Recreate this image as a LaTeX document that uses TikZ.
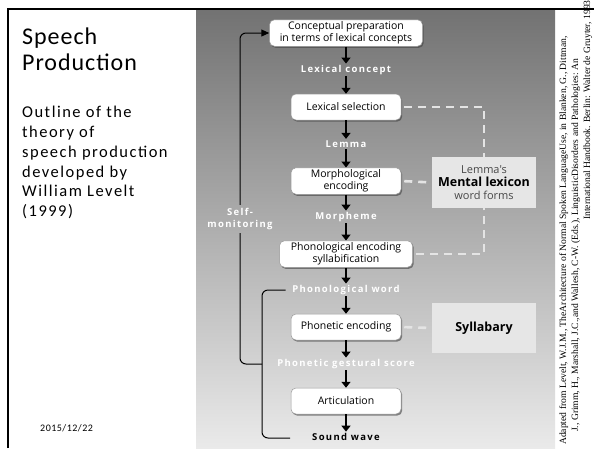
\documentclass[tikz,border=0pt]{standalone}
\usepackage{fontspec}
\setmainfont{Carlito}
\newfontfamily\titlefont[LetterSpace=4]{Carlito}
\newfontfamily\bodyfont[LetterSpace=9]{Carlito}
\newfontfamily\datefont[LetterSpace=5]{Carlito}
\newfontfamily\diagfont{Open Sans}
\newfontfamily\diagspaced[LetterSpace=14]{Open Sans}
\newfontfamily\citefont{Liberation Serif}
\usetikzlibrary{arrows.meta,shadows}

\definecolor{bgtop}{HTML}{727272}
\definecolor{bgmid}{HTML}{A8A8A8}
\definecolor{bgbot}{HTML}{EAEAEA}
\definecolor{storegray}{HTML}{E6E6E6}
\definecolor{dashgray}{HTML}{E4E4E4}
\definecolor{lexgray}{HTML}{484848}

\tikzset{
  stage/.style={draw=black!40, line width=0.5pt, fill=white, rounded corners=5pt,
    minimum width=110pt, minimum height=26pt, align=center, inner sep=2pt,
    font=\diagfont\fontsize{10.5}{12}\selectfont,
    drop shadow={shadow xshift=1.2pt, shadow yshift=-1.6pt, opacity=0.6, fill=black!75}},
  flowlabel/.style={text=white, inner sep=1.5pt,
    font=\diagspaced\bfseries\fontsize{9.5}{12.5}\selectfont},
  flowarrow/.style={line width=1.8pt, -{Triangle[length=6pt,width=9pt]}},
  monitor/.style={line width=1pt, rounded corners=6pt},
  store/.style={fill=storegray, minimum width=104pt, align=center, inner sep=2pt},
  lexlink/.style={draw=dashgray, line width=2.6pt, dash pattern=on 8pt off 6pt},
  citation/.style={rotate=90, anchor=base west, inner sep=0pt,
    font=\citefont\fontsize{9.6}{11}\selectfont}
}

\begin{document}
\begin{tikzpicture}[x=1pt,y=-1pt]
\useasboundingbox (0,0) rectangle (594,448);
\fill[white] (0,0) rectangle (594,448);

% grey backdrop of the diagram
\shade[top color=bgtop, middle color=bgmid, bottom color=bgbot] (196,9) rectangle (555,448);

% slide frame
\draw[line width=2pt] (8,448) -- (8,8.5) -- (594,8.5);

% left column text
\node[anchor=north west, align=left, inner sep=0pt, font=\titlefont\fontsize{24}{26}\selectfont]
  (title) at (22,28) {Speech\\Production};
\node[anchor=north west, align=left, inner sep=0pt, font=\bodyfont\fontsize{16.5}{19.8}\selectfont]
  (outline) at (22,106) {Outline of the\\theory of\\speech production\\developed by\\William Levelt\\(1999)};
\node[anchor=base west, inner sep=0pt, font=\datefont\fontsize{10}{11}\selectfont]
  (date) at (40,431) {2015/12/22};

% processing stages
\node[stage, minimum width=153pt] (concept) at (346,33) {Conceptual preparation\\in terms of lexical concepts};
\node[flowlabel] (lexconcept) at (346,70) {Lexical concept};
\node[stage] (lexsel) at (346,107) {Lexical selection};
\node[flowlabel] (lemma) at (346,144) {Lemma};
\node[stage] (morph) at (346,181) {Morphological\\encoding};
\node[flowlabel] (morpheme) at (346,217) {Morpheme};
\node[stage, minimum width=133pt] (phon) at (346,254) {Phonological encoding\\syllabification};
\node[flowlabel] (phonword) at (346,290) {Phonological word};
\node[stage] (phonetic) at (346,327) {Phonetic encoding};
\node[flowlabel] (gestural) at (346,364) {Phonetic gestural score};
\node[stage] (artic) at (346,401) {Articulation};
\node[flowlabel, text=black] (sound) at (346,437) {Sound wave};

\foreach \a/\b in {concept/lexconcept, lexconcept/lexsel, lexsel/lemma, lemma/morph,
                   morph/morpheme, morpheme/phon, phon/phonword, phonword/phonetic,
                   phonetic/gestural, gestural/artic, artic/sound}
  \draw[flowarrow] (\a) -- (\b);

% stores
\node[store, minimum height=51pt, text=lexgray, font=\diagfont\fontsize{11}{12.8}\selectfont]
  (lexicon) at (484,182.5) {Lemma's\\\textcolor{black}{\bfseries\fontsize{12.5}{12.8}\selectfont Mental lexicon}\\word forms};
\node[store, minimum height=50pt, font=\diagfont\bfseries\fontsize{12.5}{13}\selectfont]
  (syllabary) at (484,328) {Syllabary};

\draw[lexlink, shorten <=3pt] (lexsel.east) -| (lexicon.north);
\draw[lexlink, shorten <=3pt] (morph.east) -- (lexicon.west);
\draw[lexlink, shorten <=3pt] (phon.east) -| (lexicon.south);
\draw[lexlink, shorten <=3pt] (phonetic.east) -- (syllabary.west);

% self-monitoring loop
\node[flowlabel, align=center, inner sep=3pt] (selfmon) at (240,219) {Self-\\monitoring};
\coordinate (junction) at (262,364);
\coordinate (soundend) at (290,438);
\draw[monitor, -{Triangle[length=8pt,width=7pt]}] (selfmon.north) |- (concept.west);
\draw[monitor] (selfmon.south) |- (junction);
\draw[monitor, shorten <=5pt] (phonword.west) -| (junction) |- (soundend);

% source note
\node[citation] (cite1) at (566,445) {Adapted from Levelt, W.J.M., TheArchitecture of Normal Spoken LanguageUse, in Blanken, G., Dittman,};
\node[citation] (cite2) at (578,432) {J., Grimm, H., Marshall, J.C.,and Wallesh, C-W. (Eds.), LinguisticDisorders and Pathologies: An};
\node[citation] (cite3) at (590,220) {International Handbook. Berlin: Walter de Gruyter, 1993};
\end{tikzpicture}
\end{document}
